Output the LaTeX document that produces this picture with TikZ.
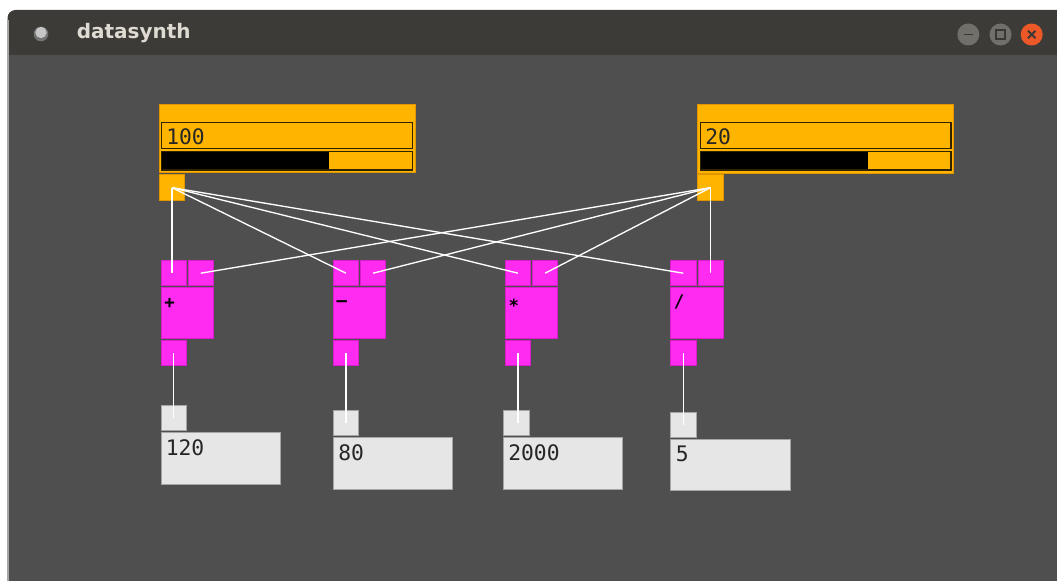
\documentclass[tikz,border=0pt]{standalone}
\usepackage{fontspec}
\newfontfamily\pdfont{DejaVu Sans Mono}
\newfontfamily\titlefont{DejaVu Sans}
\definecolor{canvas}{RGB}{79,79,79}
\definecolor{titlebar}{RGB}{60,59,55}
\definecolor{titletext}{RGB}{223,219,210}
\definecolor{pdorange}{RGB}{255,180,0}
\definecolor{pdorangeedge}{RGB}{225,150,0}
\definecolor{pddark}{RGB}{50,35,0}
\definecolor{pdmagenta}{RGB}{255,43,240}
\definecolor{pdmagentaedge}{RGB}{215,30,200}
\definecolor{pdgrey}{RGB}{230,230,230}
\definecolor{pdgreyedge}{RGB}{165,165,165}
\definecolor{btngrey}{RGB}{112,111,106}
\definecolor{btnclose}{RGB}{236,88,40}
\definecolor{btnicon}{RGB}{58,56,52}
\begin{document}
\begin{tikzpicture}[x=0.75pt,y=-0.75pt,
  pw/.style={minimum width=#1*0.75pt},
  ph/.style={minimum height=#1*0.75pt},
  box/.style={rectangle,anchor=north west,inner sep=0pt,outer sep=0pt,line width=0.75pt},
  obox/.style={box,fill=pdorange,draw=pdorangeedge},
  ofield/.style={box,fill=pdorange,draw=pddark,line width=1.1pt},
  mbox/.style={box,fill=pdmagenta,draw=pdmagentaedge},
  gbox/.style={box,fill=pdgrey,draw=pdgreyedge},
  numtxt/.style={anchor=west,inner sep=0pt,font=\pdfont\fontsize{16}{16}\selectfont,text=black!85},
  optxt/.style={anchor=west,inner sep=0pt,font=\pdfont\bfseries\fontsize{13}{13}\selectfont,text=black},
  wire/.style={draw=white,line width=1pt},
  btn/.style={circle,inner sep=0pt,minimum size=16.5pt}
]
\useasboundingbox (0,0) rectangle (1057,581);
\fill[white] (0,0) rectangle (1057,581);
% window
\fill[titlebar] (7.5,55) -- (7.5,18) arc[start angle=180,end angle=270,radius=8] -- (1057,10) -- (1057,55) -- cycle;
\fill[canvas] (7.5,55) rectangle (1057,581);
\draw[gray!70,line width=1pt] (8,20) -- (8,581);
\node[font=\titlefont\bfseries\fontsize{15}{15}\selectfont,text=titletext,anchor=west,inner sep=0pt] (title) at (76.5,33) {datasynth};
\node[circle,fill=black!55,inner sep=0pt,minimum size=11pt] (iconring) at (41,34) {};
\node[circle,fill=gray!45,inner sep=0pt,minimum size=8.5pt] (icon) at (41,32.5) {};
\node[btn,fill=btngrey] (bmin) at (968.3,34.5) {};
\draw[btnicon,line width=1.3pt] ([xshift=-3.5pt]bmin.center) -- ([xshift=3.5pt]bmin.center);
\node[btn,fill=btngrey] (bmax) at (1000.5,34.5) {};
\node[rectangle,draw=btnicon,line width=1.2pt,inner sep=0pt,minimum size=6.5pt] (bmaxsq) at (bmax.center) {};
\node[btn,fill=btnclose] (bclose) at (1031.7,34.5) {};
\draw[btnicon,line width=1.4pt] ([shift={(-2.8pt,-2.8pt)}]bclose.center) -- ([shift={(2.8pt,2.8pt)}]bclose.center)
  ([shift={(-2.8pt,2.8pt)}]bclose.center) -- ([shift={(2.8pt,-2.8pt)}]bclose.center);

% left slider
\node[obox,pw=255.5,ph=68] (sLbox) at (159.5,105) {};
\node[ofield,pw=251,ph=25.6] (sLnum) at (161.7,122.7) {};
\node[numtxt] (sLtxt) at (166,136.5) {100};
\node[ofield,pw=251,ph=18.3] (sLbar) at (161.7,151.7) {};
\fill[black] (sLbar.north west) rectangle (329.3,170);
\draw[pddark,line width=1.1pt] (sLbar.north west) rectangle (sLbar.south east);
\node[obox,pw=25.4,ph=25.3] (sL) at (159.3,175) {};

% right slider
\node[obox,pw=255.6,ph=68.3] (sRbox) at (697.7,105) {};
\node[ofield,pw=250.3,ph=25.6] (sRnum) at (700.7,122.7) {};
\node[numtxt] (sRtxt) at (705,136.5) {20};
\node[ofield,pw=250.3,ph=18.3] (sRbar) at (700.7,151.7) {};
\fill[black] (sRbar.north west) rectangle (868.3,170);
\draw[pddark,line width=1.1pt] (sRbar.north west) rectangle (sRbar.south east);
\node[obox,pw=25.6,ph=25.3] (sR) at (697.7,175) {};

% operators
\foreach \x/\n/\s/\dy in {161/1/{+}/303,333.3/2/{–}/303.5,505.3/3/{∗}/304,670.7/4/{/}/302}{
  \node[mbox,pw=25.3,ph=25] (o\n l) at (\x,260.7) {};
  \node[mbox,pw=25,ph=25] (o\n r) at (\x+27.3,260.7) {};
  \node[mbox,pw=52.3,ph=50.6] (o\n b) at (\x,287.7) {};
  \node[mbox,pw=25.3,ph=25] (o\n o) at (\x,340.7) {};
  \node[optxt] (o\n t) at (\x+3,\dy) {\s};
}

% number boxes
\node[gbox,pw=25.3,ph=25.3] (n1i) at (161,405.3) {};
\node[gbox,pw=119,ph=51.3] (n1b) at (161,432.7) {};
\node[numtxt] (n1t) at (165.5,448) {120};
\node[gbox,pw=25,ph=25.3] (n2i) at (333.3,410.3) {};
\node[gbox,pw=119,ph=51.3] (n2b) at (333.3,437.7) {};
\node[numtxt] (n2t) at (338,453) {80};
\node[gbox,pw=25.7,ph=25.3] (n3i) at (503.3,410.3) {};
\node[gbox,pw=119.4,ph=51.3] (n3b) at (503.3,437.7) {};
\node[numtxt] (n3t) at (508,452.5) {2000};
\node[gbox,pw=25.3,ph=25.3] (n4i) at (670.7,412.3) {};
\node[gbox,pw=119.3,ph=51.4] (n4b) at (670.7,439.3) {};
\node[numtxt] (n4t) at (675.5,454) {5};

% wires
\draw[wire] (sL.center) -- (sL.center |- o1l.center);
\draw[wire] (sL.center) -- (o2l.center);
\draw[wire] (sL.center) -- (o3l.center);
\draw[wire] (sL.center) -- (o4l.center);
\draw[wire] (sR.center) -- (sR.center |- o4r.center);
\draw[wire] (sR.center) -- (o1r.center);
\draw[wire] (sR.center) -- (o2r.center);
\draw[wire] (sR.center) -- (o3r.center);
\foreach \n in {1,2,3,4}{
  \draw[wire] (o\n o.center) -- (o\n o.center |- n\n i.center);
}
\end{tikzpicture}
\end{document}
